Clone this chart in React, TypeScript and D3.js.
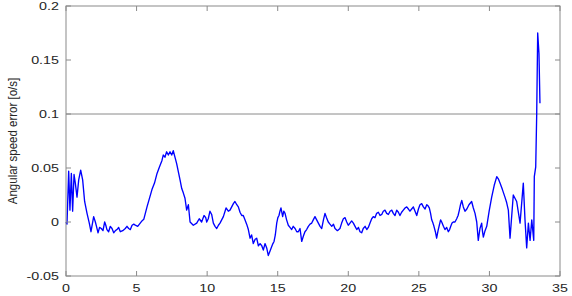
import React from "react";
import * as d3 from "d3";

const times = [
  0, 0.07, 0.19, 0.28, 0.38, 0.47, 0.57, 0.66, 0.78, 0.9, 1.04, 1.18, 1.32, 1.49, 1.65, 1.77, 1.96, 2.08,
  2.27, 2.5, 2.74, 2.9, 3.14, 3.38, 3.61, 3.85, 4.2, 4.44, 4.68, 4.91, 5.26, 5.51, 5.74, 6.09, 6.45, 6.8,
  6.89, 7.13, 7.25, 7.37, 7.49, 7.6, 7.72, 7.84, 8.08, 8.31, 8.55, 8.79, 9.02, 9.26, 9.44, 9.61, 9.78,
  9.97, 10.2, 10.44, 10.68, 10.91, 11.15, 11.34, 11.5, 11.74, 11.97, 12.21, 12.45, 12.68, 12.92, 13.04,
  13.27, 13.51, 13.75, 13.98, 14.1, 14.33, 14.57, 14.74, 14.93, 15.09, 15.23, 15.35, 15.52, 15.75, 15.99,
  16.23, 16.46, 16.7, 16.93, 17.17, 17.41, 17.64, 17.88, 18.12, 18.35, 18.58, 18.83, 19.06, 19.41, 19.65,
  19.89, 20.12, 20.36, 20.6, 20.83, 21.06, 21.31, 21.54, 21.77, 22.01, 22.25, 22.48, 22.72, 22.96, 23.19,
  23.43, 23.66, 23.9, 24.14, 24.37, 24.61, 24.85, 25.08, 25.32, 25.56, 25.74, 25.91, 26.07, 26.26, 26.45,
  26.62, 26.85, 27.09, 27.26, 27.44, 27.68, 27.87, 28.04, 28.27, 28.74, 28.98, 29.21, 29.45, 29.57, 29.81,
  30.16, 30.52, 30.75, 31.1, 31.34, 31.46, 31.69, 31.93, 32.17, 32.4, 32.52, 32.64, 32.76, 32.88, 33.0,
  33.14, 33.18, 33.28, 33.35, 33.42, 33.51, 33.58,
];

const errors = [
  0, -0.002, 0.047, 0.011, 0.045, 0.01, 0.044, 0.036, 0.023, 0.039, 0.048, 0.039, 0.019, 0.008, -0.001,
  -0.009, 0.005, 0.0, -0.01, -0.006, 0.0, -0.007, -0.004, -0.01, -0.007, -0.009, -0.006, -0.006, -0.003,
  -0.003, -0.001, 0.0025, 0.014, 0.03, 0.045, 0.057, 0.062, 0.065, 0.062, 0.065, 0.062, 0.066, 0.06, 0.054,
  0.039, 0.027, 0.011, 0.0, -0.003, -0.001, 0.003, 0.0, 0.006, 0.0, 0.01, -0.001, -0.006, -0.001, 0.005,
  0.013, 0.01, 0.014, 0.019, 0.014, 0.006, 0.002, -0.007, -0.015, -0.02, -0.015, -0.02, -0.026, -0.02,
  -0.031, -0.023, -0.018, -0.001, 0.006, 0.013, 0.005, 0.008, -0.003, -0.007, -0.006, -0.009, -0.018,
  -0.009, -0.004, -0.001, 0.005, -0.001, -0.006, 0.008, 0.0, -0.004, -0.006, -0.006, 0.003, 0.0, -0.001,
  -0.001, -0.007, -0.009, -0.006, -0.007, -0.001, 0.005, 0.008, 0.006, 0.01, 0.008, 0.01, 0.008, 0.011,
  0.006, 0.011, 0.014, 0.01, 0.014, 0.006, 0.016, 0.014, 0.016, 0.013, 0.002, -0.004, -0.015, -0.003, 0.0,
  -0.007, -0.009, -0.004, 0.0, 0.003, 0.011, 0.02, 0.01, 0.019, 0.008, -0.017, -0.001, -0.014, -0.004,
  0.023, 0.042, 0.036, 0.023, 0.011, -0.015, 0.025, 0.019, -0.001, 0.036, 0.002, -0.024, -0.001, -0.017,
  0.002, -0.017, 0.042, 0.051, 0.1, 0.175, 0.156, 0.11,
];

// finer wiggles read between the main points
const detailTimes = [
  2.16, 2.38, 2.62, 2.82, 3.02, 3.26, 3.5, 3.73, 4.02, 4.32, 4.56, 4.8, 5.08, 5.38,
  6.27, 6.62, 7.01, 8.2, 8.43, 8.67, 9.9, 10.08, 10.32, 10.56, 10.8, 11.03, 11.62, 11.86, 12.1,
  12.33, 12.56, 12.8, 13.15, 13.4, 13.63, 13.87, 14.22, 14.45, 14.66, 14.83, 15.01, 15.16, 15.43, 15.63,
  15.87, 16.1, 16.35, 16.58, 16.82, 17.05, 17.29, 17.52, 17.76, 18.0, 18.24, 18.46, 18.7, 18.95, 19.23,
  19.53, 19.77, 20.0, 20.24, 20.48, 20.72, 20.95, 21.19, 21.42, 21.66, 21.89, 22.13, 22.37, 22.6, 22.84,
  23.08, 23.31, 23.55, 23.78, 24.02, 24.26, 24.49, 24.73, 24.97, 25.2, 25.44, 25.65, 25.83, 26.0, 26.17,
  26.36, 26.54, 26.74, 26.97, 27.18, 27.35, 27.56, 27.78, 27.95, 28.15, 28.4, 28.55, 28.86, 29.1, 29.33,
  29.51, 29.69, 29.98, 30.34, 30.63, 30.92, 31.22,
];

const detailErrors = [
  -0.004, -0.005, -0.008, -0.003, -0.009, -0.006, -0.008, -0.005, -0.008, -0.004, -0.007, -0.002, -0.004, 0.001,
  0.036, 0.051, 0.06, 0.031, 0.022, 0.016, 0.004, 0.003, 0.007, -0.004, -0.003, 0.002, 0.011, 0.017, 0.016,
  0.009, 0.006, -0.002, -0.012, -0.016, -0.022, -0.022, -0.024, -0.027, -0.02, -0.012, 0.004, 0.01, 0.01, 0.002,
  -0.005, -0.004, -0.009, -0.006, -0.013, -0.007, -0.002, 0.002, 0.002, -0.004, 0.002, 0.004, -0.002, -0.002,
  -0.008, -0.001, 0.004, -0.003, 0.001, -0.004, -0.005, -0.01, -0.004, -0.005, 0.003, 0.004, 0.009, 0.007,
  0.011, 0.007, 0.011, 0.006, 0.009, 0.009, 0.013, 0.012, 0.012, 0.01, 0.012, 0.017, 0.012, 0.015, 0.008,
  -0.001, -0.009, -0.008, 0.002, -0.004, -0.005, -0.007, -0.001, 0.0, 0.006, 0.016, 0.014, 0.012, 0.016,
  0.013, 0.0, -0.006, -0.009, -0.008, 0.01, 0.034, 0.04, 0.03, 0.018,
];

const xTicks = [0, 5, 10, 15, 20, 25, 30, 35];
const yTicks = [-0.05, 0, 0.05, 0.1, 0.15, 0.2];
const yTickLabels = ["-0.05", "0", "0.05", "0.1", "0.15", "0.2"];
const refLineValue = [0.1];
const yLabel = "Angular speed error [o/s]";

const W = 572;
const H = 296;
const L = 66;
const R = 560;
const T = 6;
const B = 276;
const FONT = "'Liberation Sans', Arial, Helvetica, sans-serif";
const AX = "#8a8a8a";
const TXT = "#262626";

export default function App() {
  const x = d3.scaleLinear().domain([0, 35]).range([L, R]);
  const y = d3.scaleLinear().domain([-0.05, 0.2]).range([B, T]);
  const pts: [number, number][] = times
    .map((t, i) => [t, errors[i]] as [number, number])
    .concat(detailTimes.map((t, i) => [t, detailErrors[i]] as [number, number]))
    .sort((a, b) => a[0] - b[0]);
  const line = d3
    .line<[number, number]>()
    .x((d) => x(d[0]))
    .y((d) => y(d[1]));
  const tl = 5;
  return (
    <svg
      width={W}
      height={H}
      style={{ position: "absolute", left: 0, top: 0, background: "#fff" }}
    >
      <rect x={0} y={0} width={W} height={H} fill="#fff" />
      {refLineValue.map((v) => (
        <line key={v} x1={L} x2={R} y1={y(v)} y2={y(v)} stroke={AX} strokeWidth={1} />
      ))}
      <path d={line(pts) || ""} fill="none" stroke="#0000ff" strokeWidth={1.35} strokeLinejoin="round" />
      <rect x={L} y={T} width={R - L} height={B - T} fill="none" stroke={AX} strokeWidth={1} />
      {xTicks.map((t) => (
        <g key={"x" + t}>
          <line x1={x(t)} x2={x(t)} y1={B} y2={B - tl} stroke={AX} />
          <line x1={x(t)} x2={x(t)} y1={T} y2={T + tl} stroke={AX} />
          <text
            transform={`translate(${x(t)},${291.5}) scale(1.3,1)`}
            textAnchor="middle"
            fontFamily={FONT}
            fontSize={11}
            fill={TXT}
          >
            {String(t)}
          </text>
        </g>
      ))}
      {yTicks.map((v, i) => (
        <g key={"y" + v}>
          <line x1={L} x2={L + tl} y1={y(v)} y2={y(v)} stroke={AX} />
          <line x1={R} x2={R - tl} y1={y(v)} y2={y(v)} stroke={AX} />
          <text
            transform={`translate(59,${y(v) + 4}) scale(1.3,1)`}
            textAnchor="end"
            fontFamily={FONT}
            fontSize={11}
            fill={TXT}
          >
            {yTickLabels[i]}
          </text>
        </g>
      ))}
      <text
        transform={`translate(16.5,${(T + B) / 2}) rotate(-90) scale(1,1.15)`}
        textAnchor="middle"
        fontFamily={FONT}
        fontSize={11.5}
        fill={TXT}
      >
        {yLabel}
      </text>
    </svg>
  );
}
